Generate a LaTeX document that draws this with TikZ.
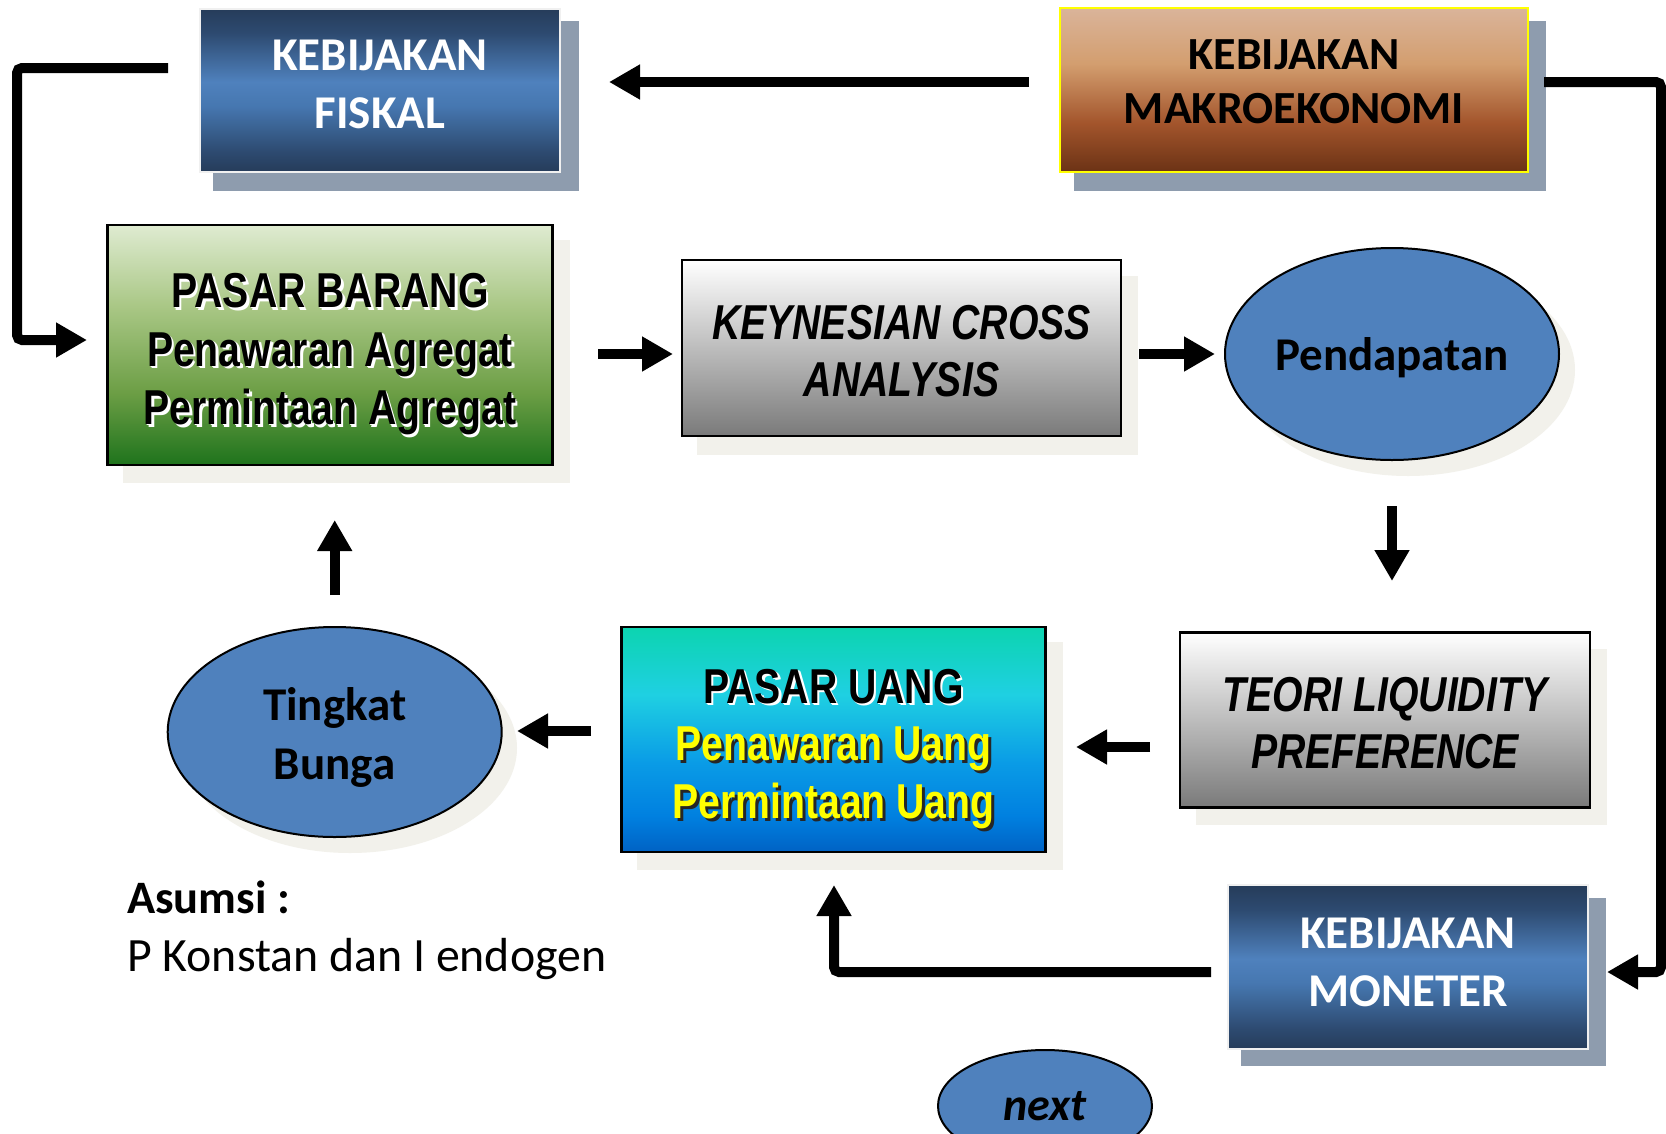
\documentclass[tikz,border=0pt]{standalone}
\usepackage{fontspec}
\setmainfont{Carlito}
\newfontfamily\narrowfont[FakeStretch=0.8]{Liberation Sans}
\usetikzlibrary{arrows.meta,shapes.geometric}

\definecolor{navyD}{HTML}{263C5A}
\definecolor{navyM}{HTML}{2D4A70}
\definecolor{navyL}{HTML}{4677B0}
\definecolor{blueM}{HTML}{4F81BD}
\definecolor{shgray}{HTML}{8E9CAE}
\definecolor{beige}{HTML}{F2F1EB}
\definecolor{mkA}{HTML}{DAB49A}
\definecolor{mkB}{HTML}{D39E6F}
\definecolor{mkC}{HTML}{A3552C}
\definecolor{mkD}{HTML}{6B3215}
\definecolor{pbA}{HTML}{DFEBD1}
\definecolor{pbB}{HTML}{A9C785}
\definecolor{pbC}{HTML}{6C9E45}
\definecolor{pbD}{HTML}{1E731C}
\definecolor{puA}{HTML}{0CD4B0}
\definecolor{puB}{HTML}{1FD0E2}
\definecolor{puC}{HTML}{0A9CE6}
\definecolor{puD}{HTML}{0080E0}
\definecolor{puE}{HTML}{0062C4}
\definecolor{ellfill}{HTML}{4F81BD}
\definecolor{yel}{HTML}{FFFF00}
\definecolor{grayB}{HTML}{7A7A7A}

\pgfdeclareverticalshading{navysh}{100bp}{color(0bp)=(navyD); color(25bp)=(navyD); color(31bp)=(navyM); color(45bp)=(navyL); color(52.5bp)=(blueM); color(67.5bp)=(navyM); color(75bp)=(navyD); color(100bp)=(navyD)}
\pgfdeclareverticalshading{makrosh}{100bp}{color(0bp)=(mkD); color(25bp)=(mkD); color(40bp)=(mkC); color(58bp)=(mkB); color(75bp)=(mkA); color(100bp)=(mkA)}
\pgfdeclareverticalshading{pbsh}{100bp}{color(0bp)=(pbD); color(25bp)=(pbD); color(40bp)=(pbC); color(58bp)=(pbB); color(75bp)=(pbA); color(100bp)=(pbA)}
\pgfdeclareverticalshading{push}{100bp}{color(0bp)=(puE); color(25bp)=(puE); color(33bp)=(puD); color(45bp)=(puC); color(60bp)=(puB); color(75bp)=(puA); color(100bp)=(puA)}

\newcommand\wglow[1]{\leavevmode\rlap{\hspace{2.5pt}\raisebox{-2.5pt}{\color{white}#1}}\rlap{\hspace{1.2pt}\raisebox{-1.2pt}{\color{white}#1}}#1}
\newcommand\kshad[1]{\leavevmode\rlap{\hspace{3pt}\raisebox{-3pt}{\color{black!85}#1}}\textcolor{yel}{#1}}

\tikzset{
  pbox/.style={rectangle, inner sep=0pt, align=center},
  navybox/.style={pbox, draw=white!94!black, line width=2pt, shading=navysh, text=white,
    font=\bfseries\fontsize{47}{58}\selectfont},
  greybox/.style={pbox, draw=black, line width=2.5pt, top color=white, bottom color=grayB,
    font=\narrowfont\bfseries\itshape\fontsize{49}{57}\selectfont},
  blueell/.style={ellipse, inner sep=0pt, draw=black, line width=2pt, fill=ellfill, align=center,
    font=\bfseries\fontsize{47}{59}\selectfont},
  arr/.style={line width=10pt, rounded corners=5pt, -{Triangle[length=31pt,width=33pt]}},
  bshadow/.style={fill=beige},
  gshadow/.style={fill=shgray}
}

\begin{document}
\begin{tikzpicture}[x=1pt,y=-1pt]
\useasboundingbox (0,0) rectangle (1666,1133);
\fill[white] (0,0) rectangle (1666,1133);

% ---------- shadows ----------
\fill[gshadow] (213,21) rectangle (579,191);
\fill[gshadow] (1074,21) rectangle (1546,191);
\fill[gshadow] (1241,898) rectangle (1606,1066);
\fill[bshadow] (123,240) rectangle (570,483);
\fill[bshadow] (697,276) rectangle (1138,455);
\fill[bshadow] (1196,649) rectangle (1607,825);
\fill[bshadow] (637,642) rectangle (1063,870);
\fill[bshadow] (1408,370) ellipse [x radius=167, y radius=106];
\fill[bshadow] (350,748) ellipse [x radius=167, y radius=105];

% ---------- boxes ----------
\node[navybox, minimum width=360pt, minimum height=163pt, text depth=11pt] (fisk) at (380,90)
  {KEBIJAKAN\\FISKAL};
\node[pbox, draw=yel, line width=2.5pt, shading=makrosh, minimum width=468pt, minimum height=164pt,
  font=\bfseries\fontsize{46}{54}\selectfont, text depth=16pt] (makro) at (1294,90)
  {KEBIJAKAN\\MAKROEKONOMI};
\node[pbox, draw=black, line width=2.5pt, shading=pbsh, minimum width=445pt, minimum height=240pt,
  font=\narrowfont\bfseries\fontsize{49}{58.5}\selectfont, text depth=0pt] (pb) at (330,345)
  {\rule{0pt}{42pt}\wglow{PASAR BARANG}\\\wglow{Penawaran Agregat}\\\wglow{Permintaan Agregat}};
\node[greybox, minimum width=439pt, minimum height=176pt] (kc) at (901.5,348)
  {\rule{0pt}{40pt}KEYNESIAN CROSS\\ANALYSIS};
\node[blueell, minimum width=334pt, minimum height=212pt, text depth=0pt] (pend) at (1392,354)
  {Pendapatan};
\node[greybox, minimum width=410pt, minimum height=175pt] (tlp) at (1385,720)
  {\rule{0pt}{40pt}TEORI LIQUIDITY\\PREFERENCE};
\node[pbox, draw=black, line width=2.5pt, shading=push, minimum width=424pt, minimum height=225pt,
  font=\narrowfont\bfseries\fontsize{49}{57.5}\selectfont, text depth=0pt] (pu) at (833.5,739.5)
  {\rule{0pt}{42pt}\wglow{PASAR UANG}\\\kshad{Penawaran Uang}\\\kshad{Permintaan Uang}};
\node[blueell, minimum width=334pt, minimum height=210pt, text depth=0pt] (tb) at (334.7,732)
  {\rule{0pt}{35pt}Tingkat\\Bunga};
\node[navybox, minimum width=360pt, minimum height=164pt, text depth=9pt] (mon) at (1408,967)
  {KEBIJAKAN\\MONETER};
\node[blueell, minimum width=214pt, minimum height=112pt, font=\bfseries\itshape\fontsize{46}{54}\selectfont]
  (nxt) at (1045,1106) {next};

% ---------- texts ----------
\node[anchor=base west, inner sep=0pt, font=\bfseries\fontsize{46.5}{54}\selectfont] (asm) at (127,913) {Asumsi :};
\node[anchor=base west, inner sep=0pt, font=\fontsize{47.8}{56}\selectfont] (asm2) at (127,971) {P Konstan dan I endogen};

% ---------- connector end points ----------
\coordinate (c1s) at (1029,82);   \coordinate (c1e) at (609,82);
\coordinate (c2s) at (168,68);    \coordinate (c2a) at (17,68);
\coordinate (c2b) at (17,340);    \coordinate (c2e) at (87,340);
\coordinate (c3s) at (598,354);   \coordinate (c3e) at (673,354);
\coordinate (c4s) at (1139,354);  \coordinate (c4e) at (1215,354);
\coordinate (c5s) at (1392,506);  \coordinate (c5e) at (1392,581);
\coordinate (c6s) at (1150,747);  \coordinate (c6e) at (1076,747);
\coordinate (c7s) at (591,731);   \coordinate (c7e) at (517,731);
\coordinate (c8s) at (334.7,595); \coordinate (c8e) at (334.7,520);
\coordinate (c9s) at (1211,972);  \coordinate (c9a) at (834,972);
\coordinate (c9e) at (834,885);
\coordinate (c10s) at (1544,82);  \coordinate (c10a) at (1661,82);
\coordinate (c10b) at (1661,972); \coordinate (c10e) at (1607,972);

% ---------- connectors ----------
\draw[arr] (c1s) -- (c1e);
\draw[arr] (c2s) -- (c2a) -- (c2b) -- (c2e);
\draw[arr] (c3s) -- (c3e);
\draw[arr] (c4s) -- (c4e);
\draw[arr] (c5s) -- (c5e);
\draw[arr] (c6s) -- (c6e);
\draw[arr] (c7s) -- (c7e);
\draw[arr] (c8s) -- (c8e);
\draw[arr] (c9s) -- (c9a) -- (c9e);
\draw[arr] (c10s) -- (c10a) -- (c10b) -- (c10e);
\end{tikzpicture}
\end{document}
